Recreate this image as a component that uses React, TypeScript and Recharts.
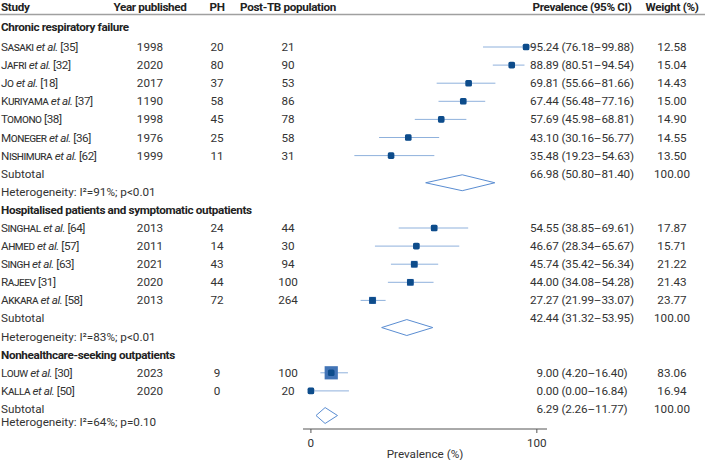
import React from "react";
import { ComposedChart, Scatter, XAxis, YAxis } from "recharts";

document.body.style.margin = "0";

const groupTitles = [
  "Chronic respiratory failure",
  "Hospitalised patients and symptomatic outpatients",
  "Nonhealthcare-seeking outpatients",
];

const studyGroup = [0, 0, 0, 0, 0, 0, 0, 1, 1, 1, 1, 1, 2, 2];
const authors = ["Sasaki", "Jafri", "Jo", "Kuriyama", "Tomono", "Moneger", "Nishimura", "Singhal", "Ahmed", "Singh", "Rajeev", "Akkara", "Louw", "Kalla"];
const etAl = [true, true, true, true, false, true, true, true, true, true, false, true, true, true];
const refs = [35, 32, 18, 37, 38, 36, 62, 64, 57, 63, 31, 58, 30, 50];
const years = [1998, 2020, 2017, 1190, 1998, 1976, 1999, 2013, 2011, 2021, 2020, 2013, 2023, 2020];
const ph = [20, 80, 37, 58, 45, 25, 11, 24, 14, 43, 44, 72, 9, 0];
const population = [21, 90, 53, 86, 78, 58, 31, 44, 30, 94, 100, 264, 100, 20];
const prevalence = [95.24, 88.89, 69.81, 67.44, 57.69, 43.1, 35.48, 54.55, 46.67, 45.74, 44.0, 27.27, 9.0, 0.0];
const ciLow = [76.18, 80.51, 55.66, 56.48, 45.98, 30.16, 19.23, 38.85, 28.34, 35.42, 34.08, 21.99, 4.2, 0.0];
const ciHigh = [99.88, 94.54, 81.66, 77.16, 68.81, 56.77, 54.63, 69.61, 65.67, 56.34, 54.28, 33.07, 16.4, 16.84];
const weights = [12.58, 15.04, 14.43, 15.0, 14.9, 14.55, 13.5, 17.87, 15.71, 21.22, 21.43, 23.77, 83.06, 16.94];

const subtotalPrev = [66.98, 42.44, 6.29];
const subtotalLow = [50.8, 31.32, 2.26];
const subtotalHigh = [81.4, 53.95, 11.77];
const hetI2 = [91, 83, 64];
const hetP = ["p<0.01", "p<0.01", "p=0.10"];

const xTicks = [0, 100];

// layout
const FONT = "Roboto, sans-serif";
const FS = 11.7;
const TXT = "#333";
const COL = { study: 1, year: 150, ph: 217, pop: 288, ci: 582, weight: 672 };
const HEADER_ROW = -1.21;
const LAST_HET_GAP = 0.72;

const fmt = (v: number) => v.toFixed(2);

type Row = { x: number; y: number; kind: string; i: number };

const rows: Row[] = [{ x: 0, y: HEADER_ROW, kind: "header", i: 0 }];
const studyRow: number[] = [];
const subRow: number[] = [];
const hetRow: number[] = [];
let k = 0;
groupTitles.forEach((_, g) => {
  rows.push({ x: 0, y: g === 0 ? k - 0.1 : k, kind: "title", i: g });
  k++;
  studyGroup.forEach((sg, s) => {
    if (sg !== g) return;
    rows.push({ x: 0, y: k, kind: "study", i: s });
    studyRow[s] = k;
    k++;
  });
  rows.push({ x: 0, y: k, kind: "sub", i: g });
  subRow[g] = k;
  const gap = g === groupTitles.length - 1 ? LAST_HET_GAP : 1;
  rows.push({ x: 0, y: k + gap, kind: "het", i: g });
  hetRow[g] = k + gap;
  k += 2;
});

const points = authors.map((_, s) => ({ x: prevalence[s], y: studyRow[s], w: weights[s] }));

const ciLines = authors.map((_, s) => [
  { x: ciLow[s], y: studyRow[s] },
  { x: ciHigh[s], y: studyRow[s] },
]);

const DIAMOND_H = 0.44;
const diamonds = groupTitles.map((_, g) => {
  const c = (subRow[g] + hetRow[g]) / 2;
  return [
    { x: subtotalLow[g], y: c },
    { x: subtotalPrev[g], y: c - DIAMOND_H },
    { x: subtotalHigh[g], y: c },
    { x: subtotalPrev[g], y: c + DIAMOND_H },
    { x: subtotalLow[g], y: c },
  ];
});

const t = (x: number, y: number, anchor: string, content: React.ReactNode, bold = false, spacing = 0) => (
  <text
    x={x}
    y={y}
    textAnchor={anchor as any}
    dominantBaseline="central"
    fontFamily={FONT}
    fontSize={FS}
    fontWeight={bold ? 700 : 400}
    letterSpacing={bold ? -0.35 : spacing}
    fill={bold ? "#222" : TXT}
  >
    {content}
  </text>
);

const RowText = (props: any) => {
  const { cy, payload } = props;
  const r: Row = payload;
  if (r.kind === "header") {
    return (
      <g>
        {t(COL.study, cy, "start", "Study", true)}
        {t(COL.year, cy, "middle", "Year published", true)}
        {t(COL.ph, cy, "middle", "PH", true)}
        {t(COL.pop, cy, "middle", "Post-TB population", true)}
        {t(COL.ci, cy, "middle", "Prevalence (95% CI)", true)}
        {t(COL.weight, cy, "middle", "Weight (%)", true)}
        <line x1={0} x2={705} y1={cy + 7.5} y2={cy + 7.5} stroke="#a0a0a0" strokeWidth={1.5} />
      </g>
    );
  }
  if (r.kind === "title") return <g>{t(COL.study, cy, "start", groupTitles[r.i], true)}</g>;
  if (r.kind === "study") {
    const s = r.i;
    return (
      <g>
        {t(
          COL.study,
          cy,
          "start",
          <>
            <tspan style={{ fontVariant: "small-caps" }}>{authors[s]}</tspan>
            {etAl[s] && <tspan fontStyle="italic"> et al.</tspan>}
            <tspan> [{refs[s]}]</tspan>
          </>,
          false,
          -0.45
        )}
        {t(COL.year, cy, "middle", years[s])}
        {t(COL.ph, cy, "middle", ph[s])}
        {t(COL.pop, cy, "middle", population[s])}
        {t(COL.ci, cy, "middle", `${fmt(prevalence[s])} (${fmt(ciLow[s])}–${fmt(ciHigh[s])})`, false, -0.15)}
        {t(COL.weight, cy, "middle", fmt(weights[s]))}
      </g>
    );
  }
  if (r.kind === "sub") {
    const g = r.i;
    return (
      <g>
        {t(COL.study, cy, "start", "Subtotal")}
        {t(COL.ci, cy, "middle", `${fmt(subtotalPrev[g])} (${fmt(subtotalLow[g])}–${fmt(subtotalHigh[g])})`, false, -0.15)}
        {t(COL.weight, cy, "middle", "100.00")}
      </g>
    );
  }
  const g = r.i;
  return <g>{t(COL.study, cy, "start", `Heterogeneity: I²=${hetI2[g]}%; ${hetP[g]}`)}</g>;
};

const StudyMarker = (props: any) => {
  const { cx, cy, payload } = props;
  const side = 1.45 * Math.sqrt(payload.w);
  return (
    <g>
      <rect x={cx - side / 2} y={cy - side / 2} width={side} height={side} fill="#4274b6" />
      <rect x={cx - 3.3} y={cy - 3.3} width={6.6} height={6.6} rx={1.6} fill="#0d4c8b" />
    </g>
  );
};

const AxisTick = (props: any) => {
  const { x, y, payload } = props;
  return (
    <text x={x} y={y + 8} textAnchor="middle" dominantBaseline="central" fontFamily={FONT} fontSize={FS} fill={TXT}>
      {payload.value}
    </text>
  );
};

const noDot = () => <g />;

export default function App() {
  return (
    <ComposedChart width={705} height={460} margin={{ top: 0, right: 158, bottom: 0, left: 303 }}>
      <XAxis
        type="number"
        dataKey="x"
        domain={[-3.5, 104.5]}
        ticks={xTicks}
        height={31}
        tickSize={4}
        axisLine={{ stroke: "#555" }}
        tickLine={{ stroke: "#555" }}
        tick={<AxisTick />}
        label={{ value: "Prevalence (%)", position: "insideBottom", offset: 2, fill: TXT, fontSize: FS, fontFamily: FONT }}
      />
      <YAxis type="number" dataKey="y" domain={[-1.5967, 22.105]} reversed hide />
      {ciLines.map((d, s) => (
        <Scatter
          key={`ci${s}`}
          data={d}
          line={{ stroke: "#8fb1dc", strokeWidth: 1 }}
          shape={noDot}
          isAnimationActive={false}
        />
      ))}
      {diamonds.map((d, g) => (
        <Scatter
          key={`dm${g}`}
          data={d}
          line={{ stroke: "#5a8dd2", strokeWidth: 1 }}
          shape={noDot}
          isAnimationActive={false}
        />
      ))}
      <Scatter data={points} shape={<StudyMarker />} isAnimationActive={false} />
      <Scatter data={rows} shape={<RowText />} isAnimationActive={false} />
    </ComposedChart>
  );
}
